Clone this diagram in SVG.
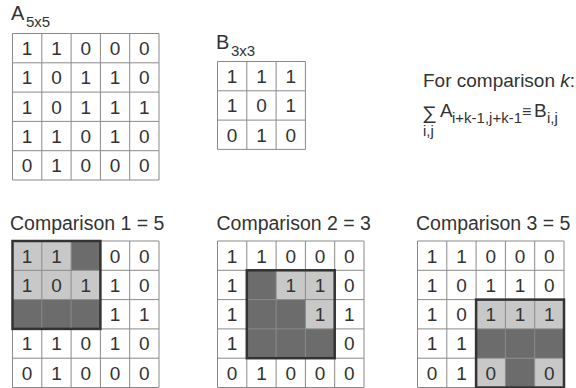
<svg xmlns="http://www.w3.org/2000/svg" width="576" height="388" viewBox="0 0 576 388">
<style>
text{font-family:"Liberation Sans",Arial,sans-serif;fill:#333}
.d{font-size:19px;text-anchor:middle}
.t{font-size:19px}
.s{font-size:15px}
.g{stroke:#8a8a8a;stroke-width:1;fill:none}
.L{fill:#c8c8c8}
.D{fill:#6c6c6c}
.b{fill:none;stroke:#333;stroke-width:2.5}
</style>
<defs>
<path id="g5" class="g" d="M0 0H146.5M0 29.3H146.5M0 58.6H146.5M0 87.9H146.5M0 117.2H146.5M0 146.5H146.5M0 0V146.5M29.3 0V146.5M58.6 0V146.5M87.9 0V146.5M117.2 0V146.5M146.5 0V146.5"/>
<path id="g3" class="g" d="M0 0H87.9M0 29.3H87.9M0 58.6H87.9M0 87.9H87.9M0 0V87.9M29.3 0V87.9M58.6 0V87.9M87.9 0V87.9"/>
</defs>

<g id="matrixA">
<text class="t" x="11" y="20" style="font-size:20px">A</text><text class="s" x="26" y="27">5x5</text>
<g transform="translate(12.5,33.5)">
<use href="#g5"/>
<text class="d" x="14.65" y="21.5">1</text><text class="d" x="43.95" y="21.5">1</text><text class="d" x="73.25" y="21.5">0</text><text class="d" x="102.55" y="21.5">0</text><text class="d" x="131.85" y="21.5">0</text>
<text class="d" x="14.65" y="50.8">1</text><text class="d" x="43.95" y="50.8">0</text><text class="d" x="73.25" y="50.8">1</text><text class="d" x="102.55" y="50.8">1</text><text class="d" x="131.85" y="50.8">0</text>
<text class="d" x="14.65" y="80.1">1</text><text class="d" x="43.95" y="80.1">0</text><text class="d" x="73.25" y="80.1">1</text><text class="d" x="102.55" y="80.1">1</text><text class="d" x="131.85" y="80.1">1</text>
<text class="d" x="14.65" y="109.4">1</text><text class="d" x="43.95" y="109.4">1</text><text class="d" x="73.25" y="109.4">0</text><text class="d" x="102.55" y="109.4">1</text><text class="d" x="131.85" y="109.4">0</text>
<text class="d" x="14.65" y="138.7">0</text><text class="d" x="43.95" y="138.7">1</text><text class="d" x="73.25" y="138.7">0</text><text class="d" x="102.55" y="138.7">0</text><text class="d" x="131.85" y="138.7">0</text>
</g>
</g>

<g id="matrixB">
<text class="t" x="216" y="49" style="font-size:20px">B</text><text class="s" x="231" y="56">3x3</text>
<g transform="translate(217.5,61.5)">
<use href="#g3"/>
<text class="d" x="14.65" y="21.5">1</text><text class="d" x="43.95" y="21.5">1</text><text class="d" x="73.25" y="21.5">1</text>
<text class="d" x="14.65" y="50.8">1</text><text class="d" x="43.95" y="50.8">0</text><text class="d" x="73.25" y="50.8">1</text>
<text class="d" x="14.65" y="80.1">0</text><text class="d" x="43.95" y="80.1">1</text><text class="d" x="73.25" y="80.1">0</text>
</g>
</g>

<g id="formula">
<text class="t" x="423" y="87">For comparison <tspan font-style="italic">k</tspan>:</text>
<text transform="translate(422,119) scale(1.3,1.15)" style="font-size:16px">∑</text>
<text class="s" x="423" y="136">i,j</text>
<text class="t" x="440" y="117">A</text>
<text class="s" x="452" y="123">i+k-1,j+k-1</text>
<text x="522" y="117" style="font-size:16px">≡</text>
<text class="t" x="534" y="117">B</text>
<text class="s" x="547" y="123">i,j</text>
</g>

<g id="comparison1">
<text class="t" x="10" y="230" style="font-size:19.5px">Comparison 1 = 5</text>
<g transform="translate(12.5,241)">
<rect class="L" x="0" y="0" width="58.6" height="58.6"/>
<rect class="L" x="58.6" y="29.3" width="29.3" height="29.3"/>
<rect class="D" x="58.6" y="0" width="29.3" height="29.3"/>
<rect class="D" x="0" y="58.6" width="87.9" height="29.3"/>
<use href="#g5"/>
<rect class="b" x="0" y="0" width="87.9" height="87.9"/>
<text class="d" x="14.65" y="21.5">1</text><text class="d" x="43.95" y="21.5">1</text><text class="d" x="102.55" y="21.5">0</text><text class="d" x="131.85" y="21.5">0</text>
<text class="d" x="14.65" y="50.8">1</text><text class="d" x="43.95" y="50.8">0</text><text class="d" x="73.25" y="50.8">1</text><text class="d" x="102.55" y="50.8">1</text><text class="d" x="131.85" y="50.8">0</text>
<text class="d" x="102.55" y="80.1">1</text><text class="d" x="131.85" y="80.1">1</text>
<text class="d" x="14.65" y="109.4">1</text><text class="d" x="43.95" y="109.4">1</text><text class="d" x="73.25" y="109.4">0</text><text class="d" x="102.55" y="109.4">1</text><text class="d" x="131.85" y="109.4">0</text>
<text class="d" x="14.65" y="138.7">0</text><text class="d" x="43.95" y="138.7">1</text><text class="d" x="73.25" y="138.7">0</text><text class="d" x="102.55" y="138.7">0</text><text class="d" x="131.85" y="138.7">0</text>
</g>
</g>

<g id="comparison2">
<text class="t" x="216.5" y="230" style="font-size:19.5px">Comparison 2 = 3</text>
<g transform="translate(217.5,241)">
<rect class="D" x="29.3" y="29.3" width="87.9" height="87.9"/>
<rect class="L" x="58.6" y="29.3" width="58.6" height="29.3"/>
<rect class="L" x="87.9" y="58.6" width="29.3" height="29.3"/>
<use href="#g5"/>
<rect class="b" x="29.3" y="29.3" width="87.9" height="87.9"/>
<text class="d" x="14.65" y="21.5">1</text><text class="d" x="43.95" y="21.5">1</text><text class="d" x="73.25" y="21.5">0</text><text class="d" x="102.55" y="21.5">0</text><text class="d" x="131.85" y="21.5">0</text>
<text class="d" x="14.65" y="50.8">1</text><text class="d" x="73.25" y="50.8">1</text><text class="d" x="102.55" y="50.8">1</text><text class="d" x="131.85" y="50.8">0</text>
<text class="d" x="14.65" y="80.1">1</text><text class="d" x="102.55" y="80.1">1</text><text class="d" x="131.85" y="80.1">1</text>
<text class="d" x="14.65" y="109.4">1</text><text class="d" x="131.85" y="109.4">0</text>
<text class="d" x="14.65" y="138.7">0</text><text class="d" x="43.95" y="138.7">1</text><text class="d" x="73.25" y="138.7">0</text><text class="d" x="102.55" y="138.7">0</text><text class="d" x="131.85" y="138.7">0</text>
</g>
</g>

<g id="comparison3">
<text class="t" x="416" y="230" style="font-size:19.5px">Comparison 3 = 5</text>
<g transform="translate(417.5,241)">
<rect class="L" x="58.6" y="58.6" width="87.9" height="29.3"/>
<rect class="D" x="58.6" y="87.9" width="87.9" height="29.3"/>
<rect class="L" x="58.6" y="117.2" width="29.3" height="29.3"/>
<rect class="D" x="87.9" y="117.2" width="29.3" height="29.3"/>
<rect class="L" x="117.2" y="117.2" width="29.3" height="29.3"/>
<use href="#g5"/>
<rect class="b" x="58.6" y="58.6" width="87.9" height="87.9"/>
<text class="d" x="14.65" y="21.5">1</text><text class="d" x="43.95" y="21.5">1</text><text class="d" x="73.25" y="21.5">0</text><text class="d" x="102.55" y="21.5">0</text><text class="d" x="131.85" y="21.5">0</text>
<text class="d" x="14.65" y="50.8">1</text><text class="d" x="43.95" y="50.8">0</text><text class="d" x="73.25" y="50.8">1</text><text class="d" x="102.55" y="50.8">1</text><text class="d" x="131.85" y="50.8">0</text>
<text class="d" x="14.65" y="80.1">1</text><text class="d" x="43.95" y="80.1">0</text><text class="d" x="73.25" y="80.1">1</text><text class="d" x="102.55" y="80.1">1</text><text class="d" x="131.85" y="80.1">1</text>
<text class="d" x="14.65" y="109.4">1</text><text class="d" x="43.95" y="109.4">1</text>
<text class="d" x="14.65" y="138.7">0</text><text class="d" x="43.95" y="138.7">1</text><text class="d" x="73.25" y="138.7">0</text><text class="d" x="131.85" y="138.7">0</text>
</g>
</g>
</svg>
